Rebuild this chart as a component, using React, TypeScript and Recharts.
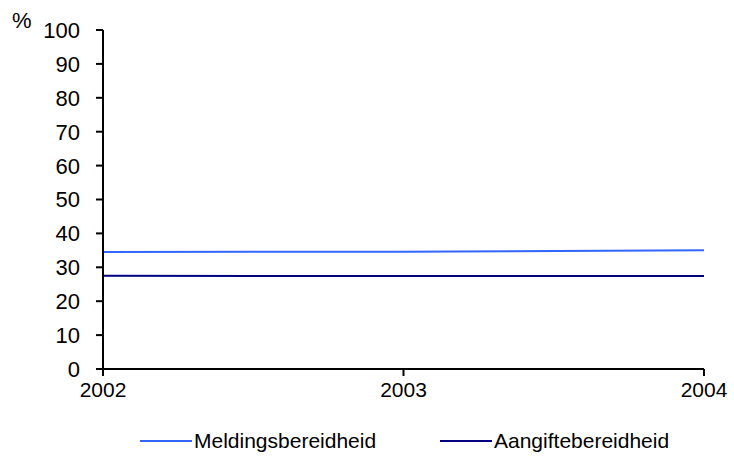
import { Label, Legend, Line, LineChart, XAxis, YAxis } from 'recharts';

const years = ['2002', '2003', '2004'];
const melding = [34.5, 34.6, 35.0];
const aangifte = [27.5, 27.4, 27.4];
const yTicks = [0, 10, 20, 30, 40, 50, 60, 70, 80, 90, 100];

const SERIES = [
  { key: 'melding', name: 'Meldingsbereidheid', color: '#3366FF' },
  { key: 'aangifte', name: 'Aangiftebereidheid', color: '#000080' },
];

const data = years.map((year, i) => ({ year, melding: melding[i], aangifte: aangifte[i] }));

const FONT = '"Liberation Sans", Arial, sans-serif';
const axisStroke = { stroke: '#000', strokeWidth: 2 };

function YTick({ x, y, payload }: any) {
  return (
    <text x={x - 14} y={y} dy="0.36em" textAnchor="end" fontSize={22} fontFamily={FONT} fill="#000">
      {payload.value}
    </text>
  );
}

function XTick({ x, y, payload }: any) {
  return (
    <text x={x} y={y} dy="0.9em" textAnchor="middle" fontSize={21} fontFamily={FONT} fill="#000">
      {payload.value}
    </text>
  );
}

function LegendRow() {
  return (
    <div style={{ height: 47, position: 'relative', fontFamily: FONT, fontSize: 21 }}>
      {SERIES.map((s, i) => (
        <div
          key={s.key}
          style={{
            position: 'absolute',
            left: i === 0 ? 140 : 440,
            top: 20,
            display: 'flex',
            alignItems: 'center',
            whiteSpace: 'nowrap',
          }}
        >
          <span style={{ display: 'inline-block', width: 52, height: 2, background: s.color, marginRight: 2 }} />
          <span>{s.name}</span>
        </div>
      ))}
    </div>
  );
}

export default function App() {
  return (
    <div style={{ position: 'absolute', left: 0, top: 0, width: 734, height: 466, background: '#fff' }}>
      <LineChart width={734} height={466} data={data} margin={{ top: 30, right: 30, bottom: 10, left: 0 }}>
        <XAxis
          dataKey="year"
          height={40}
          tick={<XTick />}
          tickSize={7}
          axisLine={axisStroke}
          tickLine={axisStroke}
          interval={0}
        />
        <YAxis
          width={103}
          domain={[0, 100]}
          ticks={yTicks}
          interval={0}
          tick={<YTick />}
          tickSize={7}
          axisLine={axisStroke}
          tickLine={axisStroke}
        >
          <Label
            content={(props: any) => {
              const vb = props.viewBox || {};
              return (
                <text x={(vb.x ?? 0) + 12} y={(vb.y ?? 0) - 2} fontSize={22} fontFamily={FONT} fill="#000">
                  %
                </text>
              );
            }}
          />
        </YAxis>
        <Legend verticalAlign="bottom" content={() => <LegendRow />} />
        {SERIES.map((s) => (
          <Line
            key={s.key}
            type="linear"
            dataKey={s.key}
            name={s.name}
            stroke={s.color}
            strokeWidth={2}
            dot={false}
            isAnimationActive={false}
          />
        ))}
      </LineChart>
    </div>
  );
}
